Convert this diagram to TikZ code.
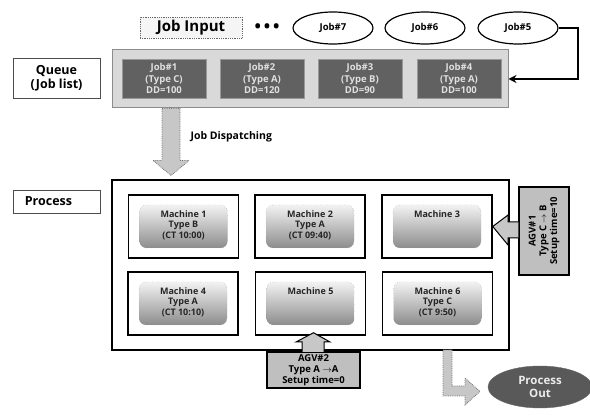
\documentclass[tikz,border=0pt]{standalone}
\usepackage{fontspec}
\setmainfont{Open Sans}
\usetikzlibrary{shapes.geometric,arrows.meta,calc}
\begin{document}
\begin{tikzpicture}[x=1pt,y=-1pt,
  lbl/.style={draw=black!70,line width=0.8pt,fill=white,font=\bfseries\fontsize{12.5}{14}\selectfont,align=center,inner sep=1pt},
  jobbox/.style={draw=black!40,fill=black!62,text=black!12,font=\bfseries\fontsize{9.5}{11.5}\selectfont,align=center,minimum width=84pt,minimum height=39pt,inner sep=1pt},
  jobell/.style={ellipse,draw=black,line width=1.2pt,fill=white,font=\bfseries\fontsize{9.5}{10}\selectfont,minimum width=80pt,minimum height=32pt,inner sep=0pt},
  mach/.style={draw=black,line width=1.5pt,fill=white,minimum width=110pt,minimum height=63pt},
  inner/.style={draw=black!45,dotted,rounded corners=7pt,top color=black!5,bottom color=black!45,minimum width=88pt,minimum height=43pt},
  mtext/.style={font=\bfseries\fontsize{9}{10.8}\selectfont,align=center,text=black!85},
  hollow/.style={fill=black!22,draw=black!55,densely dotted,line width=0.8pt},
  agv/.style={draw=black,line width=1.3pt,fill=black!25,font=\bfseries\fontsize{9.5}{10.8}\selectfont,align=center,inner sep=1pt}
]
\useasboundingbox (0,0) rectangle (590,419);

% Job input
\node[draw=black!60,densely dotted,line width=0.8pt,fill=black!4,font=\bfseries\fontsize{15}{16}\selectfont,minimum width=102pt,minimum height=21pt,inner sep=0pt] (jin) at (191,27.5) {Job Input};
\node[font=\bfseries\fontsize{17}{17}\selectfont] (dots) at (267,28) {\textbullet\,\textbullet\,\textbullet};
\node[jobell] (j7) at (333,28) {Job\#7};
\node[jobell] (j6) at (425,28) {Job\#6};
\node[jobell] (j5) at (518,28) {Job\#5};

% Queue
\node[lbl,minimum width=87pt,minimum height=40pt] (ql) at (56.5,78) {Queue\\(Job list)};
\node[draw=black!45,line width=1pt,fill=black!15,minimum width=396pt,minimum height=58pt,inner sep=0pt] (queue) at (310,79) {};
\node[jobbox] (q1) at (164,78.5) {Job\#1\\(Type C)\\DD=100};
\node[jobbox] (q2) at (262,78.5) {Job\#2\\(Type A)\\DD=120};
\node[jobbox] (q3) at (360,78.5) {Job\#3\\(Type B)\\DD=90};
\node[jobbox] (q4) at (459,78.5) {Job\#4\\(Type A)\\DD=100};
\coordinate (corner) at (578,28);
\draw[line width=1.8pt,-{Stealth[length=8pt,width=8pt]}] (j5.east) -- (corner) |- (queue.east);

% dispatching arrow
\draw[hollow] ($(queue.south)+(-148,0)$) coordinate (da) -- ++(18,0) -- ++(0,52) -- ++(9,0) -- ++(-18,15) -- ++(-18,-15) -- ++(9,0) -- cycle;
\node[font=\bfseries\fontsize{10.5}{11}\selectfont,anchor=west] (jd) at (187,137) {Job Dispatching};

% Process
\node[lbl,minimum width=87pt,minimum height=23pt,anchor=center] (pl) at (56.5,201.5) {\hspace*{-16pt}Process};
\node[draw=black,line width=1.5pt,minimum width=397pt,minimum height=170pt,inner sep=0pt] (proc) at (310.5,265) {};

\foreach \n/\x/\y in {1/183.5/226.5,2/310/226.5,3/437/226.5,4/183/303.5,5/310.5/303.5,6/437.5/303.5}{
  \node[mach] (m\n) at (\x,\y) {};
  \node[inner] (i\n) at (\x,\y) {};
}
\node[mtext,anchor=north] (t1) at ($(i1.north)+(0,2)$) {Machine 1\\Type B\\(CT 10:00)};
\node[mtext,anchor=north] (t2) at ($(i2.north)+(0,2)$) {Machine 2\\Type A\\(CT 09:40)};
\node[mtext,anchor=north] (t3) at ($(i3.north)+(0,2)$) {Machine 3};
\node[mtext,anchor=north] (t4) at ($(i4.north)+(0,2)$) {Machine 4\\Type A\\(CT 10:10)};
\node[mtext,anchor=north] (t5) at ($(i5.north)+(0,2)$) {Machine 5};
\node[mtext,anchor=north] (t6) at ($(i6.north)+(0,2)$) {Machine 6\\Type C\\(CT 9:50)};

% AGV#1
\node[agv,minimum width=50pt,minimum height=88pt] (agv1) at (544,231) {};
\node[rotate=90,font=\bfseries\fontsize{9.5}{10.8}\selectfont,align=center] (agv1t) at (agv1.center) {AGV\#1\\Type C $\rightarrow$ B\\Setup time=10};
\draw[hollow,solid,draw=black,line width=1pt] (agv1.west |- 0,222) -- (508,222) -- (508,215) -- (m3.east) -- (508,245) -- (508,238) -- (agv1.west |- 0,238);

% AGV#2
\node[agv,minimum width=93pt,minimum height=36pt] (agv2) at (313.5,370) {AGV\#2\\Type A $\rightarrow$A\\Setup time=0};
\draw[hollow,solid,draw=black,line width=1pt] (302,352) -- (302,342) -- (296,342) -- ($(m5.south)+(3,-3)$) -- (330,342) -- (324,342) -- (324,352);

% Process out
\node[ellipse,draw=black!60,fill=black!65,text=black!8,font=\bfseries\fontsize{11.5}{13}\selectfont,align=center,minimum width=104pt,minimum height=42pt,inner sep=0pt] (pout) at (540,387) {Process\\Out};
\draw[hollow] (443,350) -- (452,350) -- (452,386) -- (465,386) -- (465,378) -- (480,391.5) -- (465,405) -- (465,396) -- (443,396) -- cycle;
\end{tikzpicture}
\end{document}
